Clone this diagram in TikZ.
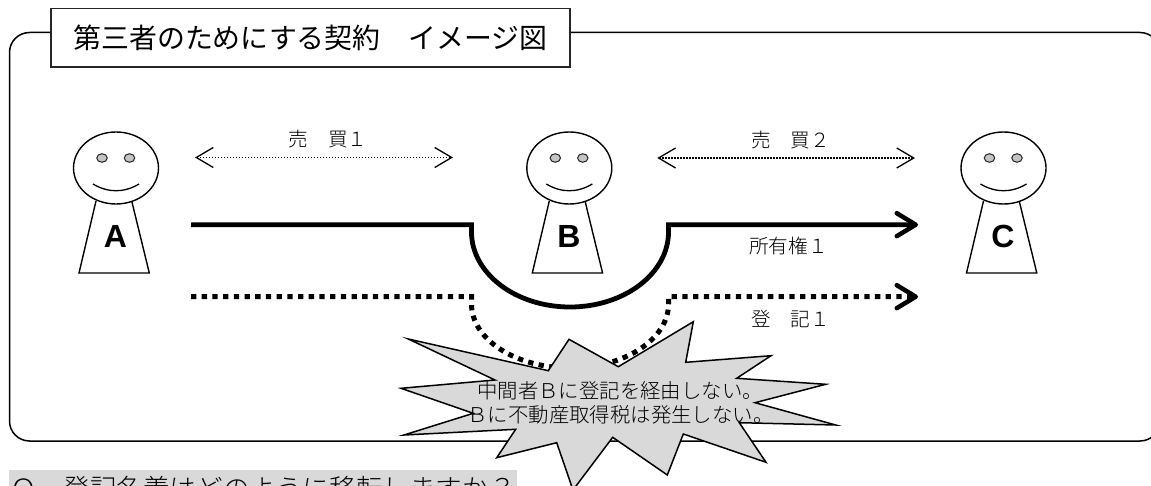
\documentclass[tikz,border=0pt]{standalone}
\usepackage{fontspec}
\usetikzlibrary{arrows.meta,shapes.geometric}
\newfontfamily\jpgo{Noto Sans CJK JP}
\newfontfamily\jplight{Noto Sans CJK JP}[UprightFont=* Light]
\newfontfamily\latinsans{Liberation Sans}
\newcommand{\zsp}{\char"3000 }
\newcommand{\zone}{\char"FF11 }
\newcommand{\ztwo}{\char"FF12 }
\newcommand{\zB}{\char"FF22 }
\newcommand{\zQ}{\char"FF31 }
\newcommand{\zqm}{\char"FF1F }
\definecolor{starfill}{HTML}{D9D9D9}
\definecolor{eyefill}{HTML}{C4C4C4}
\tikzset{
  outline/.style={line width=1.5pt,draw=black},
  label/.style={inner sep=0pt,font=\jplight\fontsize{19.6}{19.6}\selectfont,text=black},
  startext/.style={inner sep=0pt,font=\jplight\fontsize{20.4}{20.4}\selectfont,text=black},
  headshape/.style={ellipse,draw=black,line width=1.4pt,minimum width=85pt,minimum height=72pt,inner sep=0pt},
  eyeshape/.style={ellipse,draw=black!85,line width=1pt,fill=eyefill,minimum width=10.5pt,minimum height=8.5pt,inner sep=0pt},
  bodyletter/.style={inner sep=0pt,font=\latinsans\bfseries\fontsize{32}{32}\selectfont},
  thickline/.style={line width=4.8pt,line join=miter},
  squaredots/.style={line width=5pt,dash pattern=on 5.3pt off 5.4pt},
  finedots/.style={line width=1.5pt,dash pattern=on 1.4pt off 1.6pt},
  bigtip/.style={-{Straight Barb[length=19pt,width=23pt,line width=4.5pt,round]}},
  opentips/.style={{Straight Barb[length=17pt,width=20pt,line width=1.3pt]}-{Straight Barb[length=17pt,width=20pt,line width=1.3pt]}},
}
\newcommand{\personfig}[3]{%
  \begin{scope}[shift={(#2,0)}]
    \draw[line width=1.4pt,line join=miter] (-20,201) -- (-37,273) -- (33.3,273) -- (15.7,201);
    \node[headshape] (head#1) at (0,168) {};
    \node[eyeshape] (eyeL#1) at (-14,158) {};
    \node[eyeshape] (eyeR#1) at (13.5,158) {};
    \draw[line width=1.3pt] (-23,184) .. controls (-8,193) and (8,193) .. (23,184);
    \node[bodyletter] (letter#1) at (-0.5,236) {#3};
  \end{scope}}
\begin{document}
\begin{tikzpicture}[x=1pt,y=-1pt]
\clip (0,0) rectangle (1151,486);
\fill[white] (0,0) rectangle (1151,486);
% outer frame
\draw[outline,rounded corners=20pt] (9.5,32.5) rectangle (1160,441);
% title
\node[draw=black!85,line width=1.5pt,fill=white,minimum width=519pt,minimum height=58.5pt,inner sep=0pt,
      font=\jpgo\fontsize{27.9}{27.9}\selectfont] (title) at (310.5,37.75) {第三者のためにする契約\zsp イメージ図};
% people
\personfig{A}{116}{A}
\personfig{B}{569.3}{B}
\personfig{C}{1003.5}{C}
% coordinates
\coordinate (saleAs) at (195,157.5);
\coordinate (saleAe) at (453,157.5);
\coordinate (saleBs) at (657.3,158);
\coordinate (saleBe) at (915,158);
\coordinate (ownS) at (191,224.7);
\coordinate (ownL) at (471.5,224.7);
\coordinate (ownL2) at (471.5,232);
\coordinate (ownM) at (570,307);
\coordinate (ownR2) at (668.5,232);
\coordinate (ownR) at (668.5,224.7);
\coordinate (ownE) at (918,224.7);
\coordinate (regS) at (191,296.7);
\coordinate (regL) at (471.5,296.7);
\coordinate (regL2) at (471.5,304);
\coordinate (regM) at (570,368);
\coordinate (regR2) at (668.5,304);
\coordinate (regR) at (668.5,296.7);
\coordinate (regE) at (918,296.7);
% sale arrows
\draw[finedots,opentips] (saleAs) -- (saleAe);
\draw[finedots,opentips] (saleBs) -- (saleBe);
% ownership
\draw[thickline,bigtip] (ownS) -- (ownL) -- (ownL2)
  .. controls (471.5,273.4) and (515.6,307) .. (ownM)
  .. controls (624.4,307) and (668.5,273.4) .. (ownR2) -- (ownR) -- (ownE);
% registration
\draw[squaredots,bigtip] (regS) -- (regL) -- (regL2)
  .. controls (471.5,339.3) and (515.6,368) .. (regM)
  .. controls (624.4,368) and (668.5,339.3) .. (regR2) -- (regR) -- (regE);
% labels
\node[label] (lab1) at (328,139) {売\zsp 買\zone};
\node[label] (lab2) at (790.5,140) {売\zsp 買\ztwo};
\node[label] (lab3) at (788.5,246) {所有権\zone};
\node[label] (lab4) at (790.5,319) {登\zsp 記\zone};
% star
\draw[line width=1.5pt,fill=starfill,line join=miter]
  (408.3,339) -- (548.3,370.7) -- (569,339.3) -- (618.3,366.7) -- (693.3,321.7)
  -- (685.7,362.3) -- (771,355.7) -- (736.7,378.3) -- (825.7,384.3) -- (755,402.7)
  -- (835.7,425) -- (739.3,422.7) -- (766,462.3) -- (683.3,434) -- (667.3,475)
  -- (612.7,437.3) -- (573,490) -- (556.7,442.7) -- (496.7,457.7) -- (515.7,429.3)
  -- (404,435) -- (473.3,413.3) -- (401,388.3) -- (495,380) -- cycle;
\node[startext] (star1) at (620,391) {中間者\zB に登記を経由しない。};
\node[startext] (star2) at (620.5,415) {\zB に不動産取得税は発生しない。};
% question
\node[fill=starfill,minimum width=508pt,minimum height=40pt,inner sep=0pt,
      font=\jplight\fontsize{26.6}{26.6}\selectfont,text=black] (question) at (263,490)
      {\zQ\zsp 登記名義はどのように移転しますか\zqm};
\end{tikzpicture}
\end{document}
